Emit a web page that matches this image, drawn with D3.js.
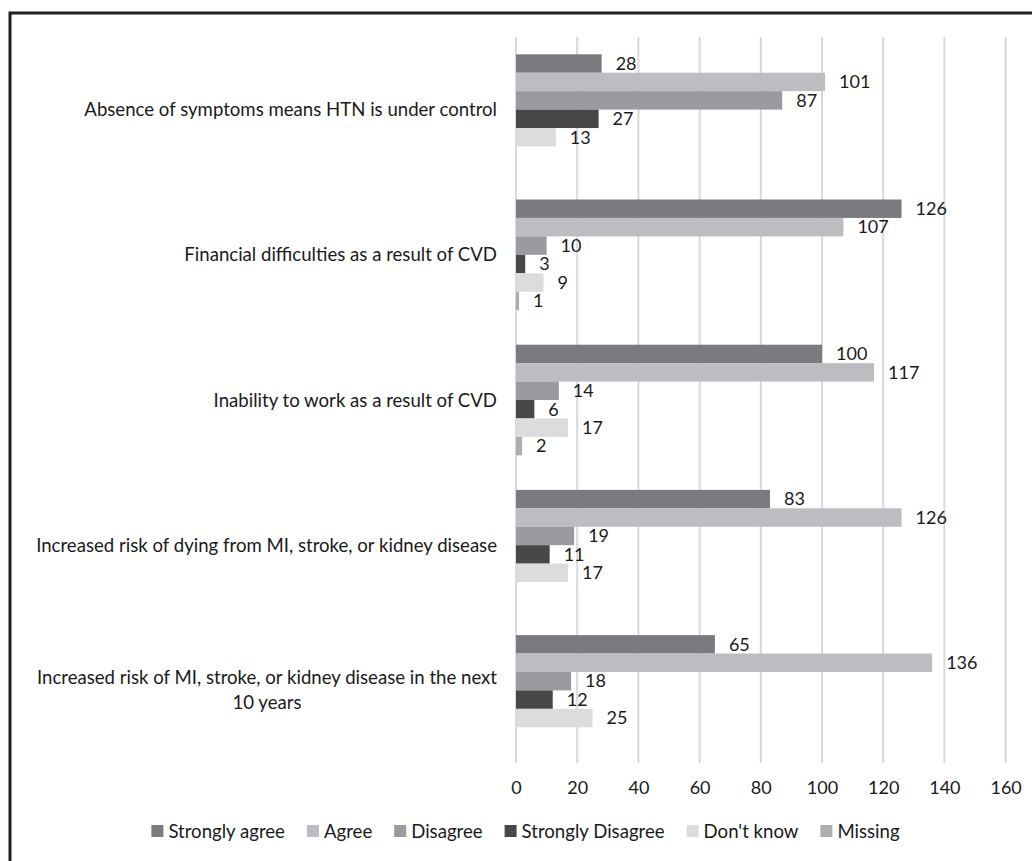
<!DOCTYPE html>
<html>
<head>
<meta charset="utf-8">
<script src="https://cdn.jsdelivr.net/npm/d3@7"></script>
<style>
  html, body { margin: 0; padding: 0; background: #fff; }
  svg { display: block; }
  text { font-family: Lato, "Open Sans", sans-serif; fill: #1a1a1a; }
</style>
</head>
<body>
<svg id="chart" width="1032" height="861"></svg>
<script>
// Survey statements (top to bottom) and response counts per answer
const categories = [
  "Absence of symptoms means HTN is under control",
  "Financial difficulties as a result of CVD",
  "Inability to work as a result of CVD",
  "Increased risk of dying from MI, stroke, or kidney disease",
  "Increased risk of MI, stroke, or kidney disease in the next 10 years"
];
const categoryLines = [
  ["Absence of symptoms means HTN is under control"],
  ["Financial difficulties as a result of CVD"],
  ["Inability to work as a result of CVD"],
  ["Increased risk of dying from MI, stroke, or kidney disease"],
  ["Increased risk of MI, stroke, or kidney disease in the next", "10 years"]
];
const seriesNames = ["Strongly agree", "Agree", "Disagree", "Strongly Disagree", "Don't know", "Missing"];
const stronglyAgree    = [28, 126, 100, 83, 65];
const agree            = [101, 107, 117, 126, 136];
const disagree         = [87, 10, 14, 19, 18];
const stronglyDisagree = [27, 3, 6, 11, 12];
const dontKnow         = [13, 9, 17, 17, 25];
const missing          = [null, 1, 2, null, null];
const xTicks = [0, 20, 40, 60, 80, 100, 120, 140, 160];

const seriesValues = [stronglyAgree, agree, disagree, stronglyDisagree, dontKnow, missing];
const colors = ["#7b7b7f", "#bcbdc0", "#9a9b9e", "#47474a", "#dcdcde", "#aeaeb1"];

const labelSize = 18.6;
const numberSize = 18;

const svg = d3.select("#chart");

// outer frame
svg.append("rect")
  .attr("x", 10).attr("y", 13)
  .attr("width", 1060).attr("height", 900)
  .attr("fill", "none").attr("stroke", "#222").attr("stroke-width", 3);

const plot = { left: 516, right: 1005.6, top: 37, bottom: 763 };

const x = d3.scaleLinear().domain([0, 160]).range([plot.left, plot.right]);
const y0 = d3.scaleBand().domain(d3.range(categories.length))
  .range([plot.top, plot.bottom]).paddingInner(0).paddingOuter(0);
const y1 = d3.scaleBand().domain(d3.range(seriesNames.length))
  .range([17.3, y0.bandwidth() - 17.3]).padding(0);

// vertical gridlines
svg.append("g").selectAll("line").data(xTicks).join("line")
  .attr("x1", d => x(d)).attr("x2", d => x(d))
  .attr("y1", plot.top).attr("y2", plot.bottom)
  .attr("stroke", "#d9d9d9").attr("stroke-width", 2);

// x axis labels
const xAxis = d3.axisBottom(x).tickValues(xTicks).tickSize(0).tickPadding(18);
const gx = svg.append("g").attr("transform", `translate(0,${plot.bottom})`).call(xAxis);
gx.select(".domain").remove();
gx.selectAll("text").attr("font-size", numberSize).style("font-family", "Lato, sans-serif").attr("fill", "#1a1a1a");

// bars
const groups = svg.append("g").selectAll("g").data(categories).join("g")
  .attr("transform", (d, i) => `translate(0,${y0(i)})`);

groups.each(function(c, ci) {
  const g = d3.select(this);
  const rows = seriesValues.map((arr, si) => ({ si, v: arr[ci] })).filter(r => r.v != null);
  g.selectAll("rect").data(rows).join("rect")
    .attr("x", x(0))
    .attr("y", r => y1(r.si))
    .attr("width", r => x(r.v) - x(0))
    .attr("height", y1.bandwidth())
    .attr("fill", r => colors[r.si]);
  g.selectAll("text.val").data(rows).join("text")
    .attr("class", "val")
    .attr("x", r => x(r.v) + 14)
    .attr("y", r => y1(r.si) + y1.bandwidth() / 2)
    .attr("dy", "0.35em")
    .attr("font-size", numberSize)
    .text(r => r.v);
});

// category labels, right-aligned block; multi-line labels centered within the block
const labelRight = 497;
categoryLines.forEach((lines, i) => {
  const cy = y0(i) + y0.bandwidth() / 2;
  const lh = 25;
  const t = svg.append("text").attr("font-size", labelSize);
  const tspans = lines.map((ln, k) =>
    t.append("tspan").attr("y", cy + (k - (lines.length - 1) / 2) * lh).attr("dy", "0.35em").text(ln));
  const widths = tspans.map(s => s.node().getComputedTextLength());
  const maxW = d3.max(widths);
  tspans.forEach((s, k) => s.attr("x", labelRight - maxW + (maxW - widths[k]) / 2));
});

// legend, centered below the axis
const legend = svg.append("g");
let lx = 0;
seriesNames.forEach((name, i) => {
  const item = legend.append("g");
  item.append("rect").attr("x", 0).attr("y", -6).attr("width", 12).attr("height", 12).attr("fill", colors[i]);
  const tx = item.append("text").attr("x", 17).attr("y", 0).attr("dy", "0.35em").attr("font-size", labelSize).text(name);
  const w = 17 + tx.node().getComputedTextLength();
  item.attr("transform", `translate(${lx},831)`);
  lx += w + 22;
});
const legendW = lx - 22;
legend.attr("transform", `translate(${525.5 - legendW / 2},0)`);
</script>
</body>
</html>
